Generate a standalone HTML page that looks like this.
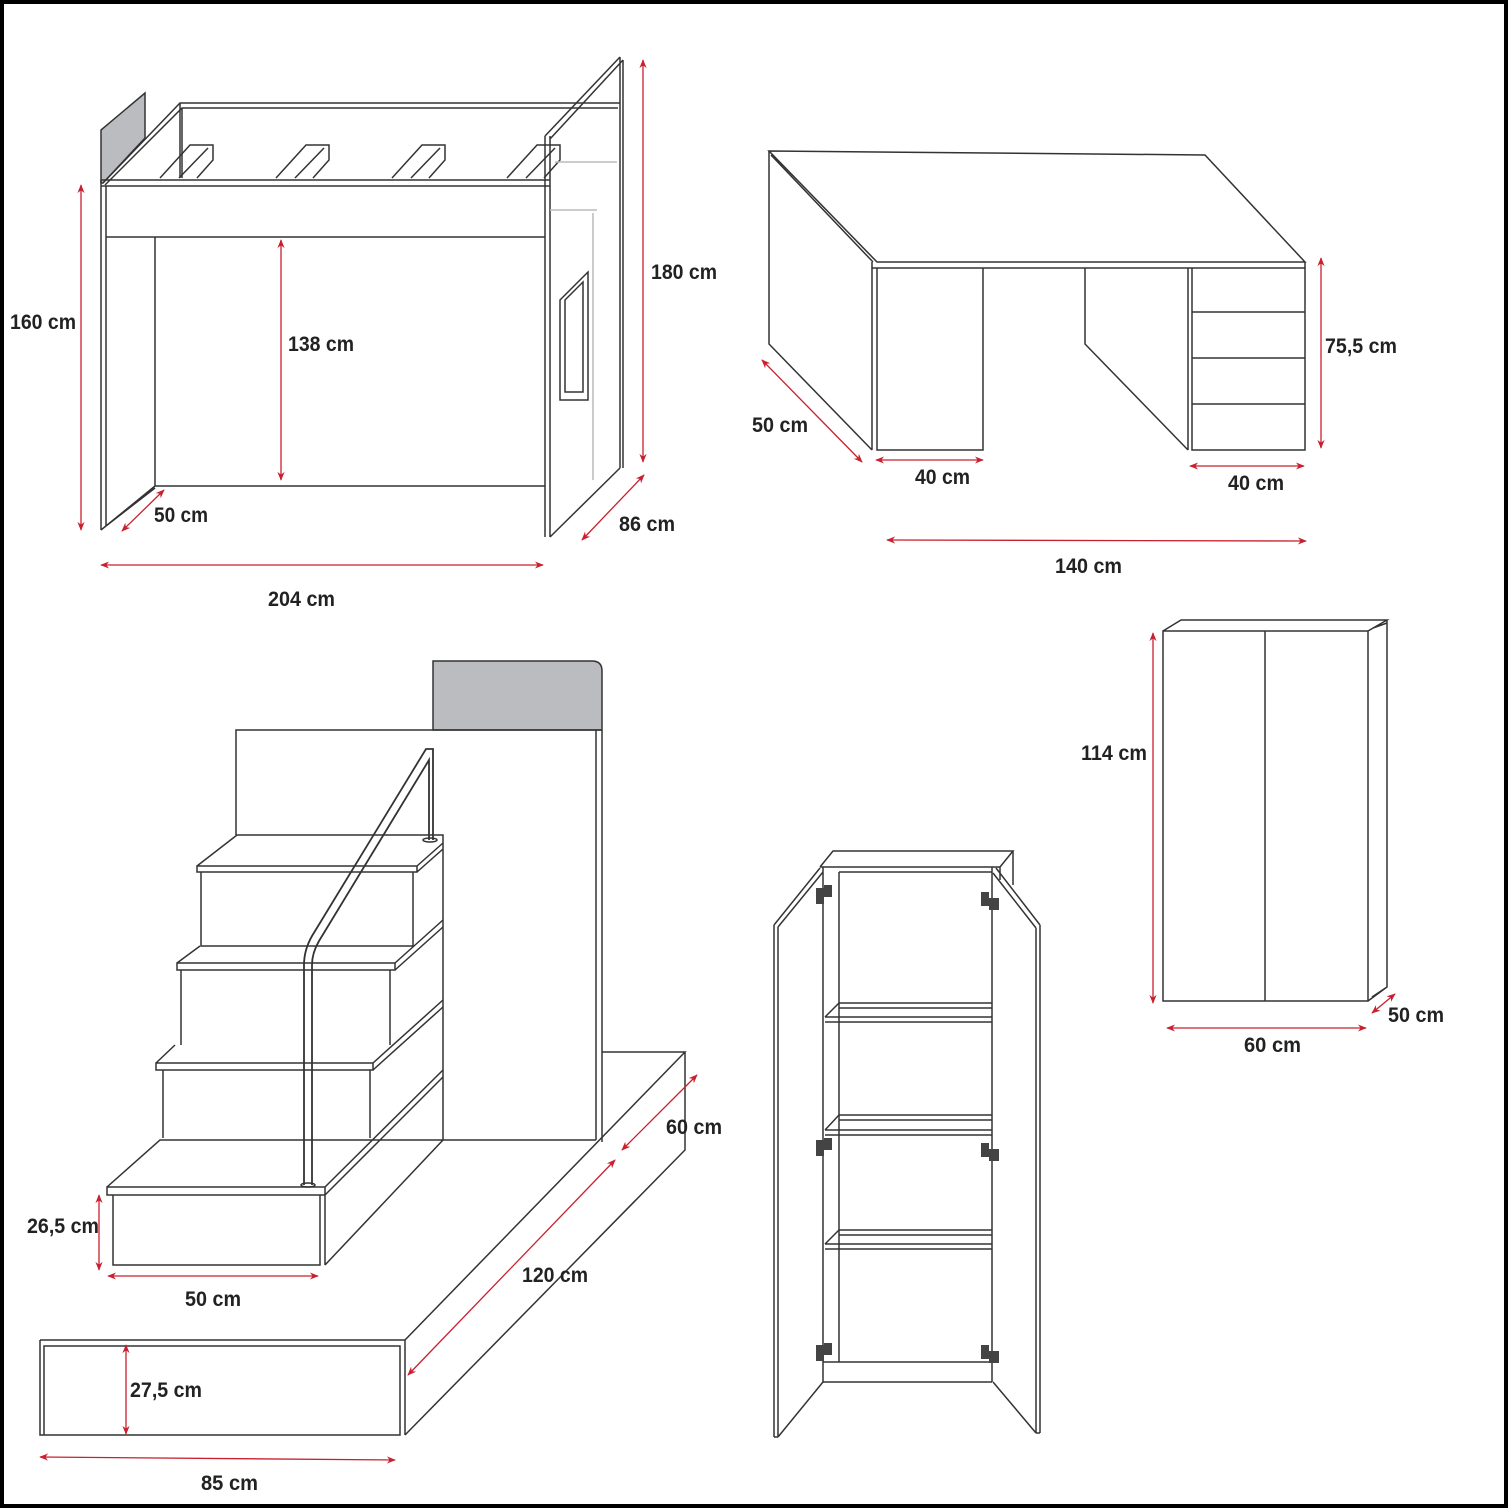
<!DOCTYPE html>
<html><head><meta charset="utf-8"><style>
html,body{margin:0;padding:0;background:#fff}
svg{display:block}
text{font-family:"Liberation Sans Narrow","Liberation Sans",sans-serif;font-weight:bold;font-size:21px;fill:#222}
</style></head><body>
<svg width="1508" height="1508" viewBox="0 0 1508 1508" xmlns="http://www.w3.org/2000/svg">
<defs>
<marker id="a" viewBox="0 0 10 10" refX="9" refY="5" markerWidth="9" markerHeight="9" orient="auto-start-reverse" markerUnits="userSpaceOnUse"><path d="M0,1 L10,5 L0,9 L3,5 z" fill="#c8202e"/></marker>
</defs>
<rect x="2" y="2" width="1504" height="1504" fill="#fff" stroke="#000" stroke-width="4"/>
<g fill="none" stroke="#333" stroke-width="1.5">
<!-- BED -->
<path d="M101,130 L145,93 L145,138 L103,183 L101,183 Z" fill="#bbbcbf"/>
<path d="M103,183 L180,103 L620,103 M105,185 L182,108 L618,108 M180,103 L180,178 M182,108 L182,178"/>
<path d="M101,180 L550,180 M101,186 L550,186 M101,180 L101,530 M106,186 L106,526 M106,237 L545,237 M155,237 L155,486 M155,486 L545,486 M101,530 L155,486 M106,526 L155,488"/>
<path d="M160,178 L190,145 L213,145 L213,160 L197,178 M179,178 L208,148"/>
<path d="M276,178 L306,145 L329,145 L329,160 L313,178 M295,178 L324,148"/>
<path d="M392,178 L422,145 L445,145 L445,160 L429,178 M411,178 L440,148"/>
<path d="M507,178 L537,145 L560,145 L560,160 L544,178 M526,178 L555,148"/>
<path d="M545,136 L545,537 M550,136 L550,537 M545,136 L620,57 M550,139 L623,60 M620,57 L620,468 M623,60 L623,468 M550,537 L620,468"/>
<path d="M555,162 L617,162 M550,210 L597,210 M593,213 L593,480" stroke="#bbb"/>
<path d="M560,300 L588,272 L588,400 L560,400 Z M565,300 L583,282 L583,392 L565,392 Z" stroke="#333"/>
<!-- DESK -->
<path d="M769,151 L1205,155 L1305,262 L877,262 Z M771,155 L873,262 M872,262 L872,268 L1305,268 L1305,262"/>
<path d="M769,151 L769,344 L872,450 M872,268 L872,450 M877,268 L877,450 L983,450 L983,268"/>
<path d="M1085,268 L1085,344 L1188,450 M1188,268 L1188,450 M1192,268 L1192,450 L1305,450 L1305,268 M1192,312 L1305,312 M1192,358 L1305,358 M1192,404 L1305,404"/>
<!-- STAIRS -->
<path d="M433,661 L592,661 Q602,661 602,671 L602,730 L433,730 Z" fill="#bbbcbf"/>
<path d="M236,835 L236,730 L602,730 M596,730 L596,1140 M602,730 L602,1142 M443,1140 L596,1140"/>
<path d="M40,1340 L405,1340 L685,1052 L602,1052 M44,1346 L400,1346 L400,1435 L44,1435 Z M405,1340 L405,1435 M405,1435 L685,1150 L685,1052 M40,1340 L40,1435 L44,1435"/>
<path d="M107,1187 L325,1187 L325,1195 L107,1195 Z M113,1195 L113,1265 L320,1265 L320,1195 M325,1195 L325,1265 M107,1187 L160,1140 L443,1140 M325,1265 L443,1140 M325,1187 L443,1070 M325,1195 L443,1077"/>
<path d="M156,1063 L373,1063 L373,1070 L156,1070 Z M163,1070 L163,1138 M370,1070 L370,1138 M373,1063 L443,1000 M373,1070 L443,1007 M156,1063 L175,1045"/>
<path d="M177,963 L395,963 L395,970 L177,970 Z M181,970 L181,1045 M390,970 L390,1045 M395,963 L443,920 M395,970 L443,927 M177,963 L200,946"/>
<path d="M197,866 L417,866 L417,872 L197,872 Z M201,872 L201,946 L413,946 L413,872 M417,866 L443,843 M417,872 L443,849 M197,866 L237,835 L443,835 L443,1140"/>
<path d="M304,1185 L304,965 Q304,950 312,936 L426,749 L433,749 L433,840 M312,1185 L312,965 Q312,953 319,941 L429,760 L429,840" stroke-width="1.8"/>
<ellipse cx="308" cy="1185" rx="7" ry="2"/><ellipse cx="430" cy="840" rx="7" ry="2"/>
<!-- OPEN CABINET -->
<path d="M820,867 L1000,867 M820,867 L833,851 L1013,851 L1000,867 M1013,851 L1013,885 M1000,867 L1000,880"/>
<path d="M823,867 L823,1382 M839,872 L839,1362 M992,867 L992,1382 M839,872 L992,872 M823,1382 L992,1382 M823,1362 L992,1362"/>
<path d="M774,925 L820,868 M778,927 L823,872 M774,925 L774,1437 M778,927 L778,1437 M774,1437 L778,1437 M778,1437 L823,1382"/>
<path d="M996,868 L1040,925 M993,873 L1036,928 M1036,928 L1036,1433 M1040,925 L1040,1433 M1036,1433 L1040,1433 M993,1382 L1036,1433"/>
<path d="M839,1003 L992,1003 M839,1008 L992,1008 M825,1017 L992,1017 M825,1022 L992,1022 M825,1017 L839,1003"/>
<path d="M839,1115 L992,1115 M839,1120 L992,1120 M825,1130 L992,1130 M825,1135 L992,1135 M825,1130 L839,1115"/>
<path d="M839,1230 L992,1230 M839,1235 L992,1235 M825,1244 L992,1244 M825,1249 L992,1249 M825,1244 L839,1230"/>
<!-- WARDROBE -->
<path d="M1163,631 L1368,631 L1368,1001 L1163,1001 Z M1265,631 L1265,1001 M1163,631 L1181,620 L1387,620 L1368,631 M1373,628 L1387,623 M1387,620 L1387,987 L1368,1001 M1372,997 L1387,987"/>
</g>
<!-- hinges -->
<g fill="#444">
<rect x="816" y="888" width="8" height="16"/><rect x="824" y="885" width="8" height="12"/>
<rect x="981" y="892" width="8" height="14"/><rect x="989" y="898" width="10" height="12"/>
<rect x="816" y="1140" width="8" height="16"/><rect x="824" y="1138" width="8" height="12"/>
<rect x="981" y="1143" width="8" height="14"/><rect x="989" y="1149" width="10" height="12"/>
<rect x="816" y="1345" width="8" height="16"/><rect x="824" y="1343" width="8" height="12"/>
<rect x="981" y="1345" width="8" height="14"/><rect x="989" y="1351" width="10" height="12"/>
</g>
<!-- dimensions -->
<g stroke="#c8202e" stroke-width="1.3" fill="none" marker-start="url(#a)" marker-end="url(#a)">
<line x1="81" y1="185" x2="81" y2="530"/>
<line x1="281" y1="240" x2="281" y2="480"/>
<line x1="643" y1="60" x2="643" y2="462"/>
<line x1="122" y1="531" x2="164" y2="490"/>
<line x1="582" y1="540" x2="644" y2="475"/>
<line x1="101" y1="565" x2="543" y2="565"/>
<line x1="762" y1="360" x2="862" y2="462"/>
<line x1="876" y1="460" x2="983" y2="460"/>
<line x1="1190" y1="466" x2="1304" y2="466"/>
<line x1="1321" y1="258" x2="1321" y2="448"/>
<line x1="887" y1="540" x2="1306" y2="541"/>
<line x1="99" y1="1195" x2="99" y2="1270"/>
<line x1="108" y1="1276" x2="318" y2="1276"/>
<line x1="126" y1="1345" x2="126" y2="1434"/>
<line x1="40" y1="1457" x2="395" y2="1460"/>
<line x1="408" y1="1375" x2="615" y2="1160"/>
<line x1="622" y1="1150" x2="697" y2="1075"/>
<line x1="1153" y1="633" x2="1153" y2="1003"/>
<line x1="1167" y1="1028" x2="1366" y2="1028"/>
<line x1="1372" y1="1013" x2="1395" y2="994"/>
</g>
<g lengthAdjust="spacingAndGlyphs">
<text x="10" y="329" textLength="66" lengthAdjust="spacingAndGlyphs">160 cm</text>
<text x="288" y="351" textLength="66" lengthAdjust="spacingAndGlyphs">138 cm</text>
<text x="651" y="279" textLength="66" lengthAdjust="spacingAndGlyphs">180 cm</text>
<text x="154" y="522" textLength="54" lengthAdjust="spacingAndGlyphs">50 cm</text>
<text x="619" y="531" textLength="56" lengthAdjust="spacingAndGlyphs">86 cm</text>
<text x="268" y="606" textLength="67" lengthAdjust="spacingAndGlyphs">204 cm</text>
<text x="752" y="432" textLength="56" lengthAdjust="spacingAndGlyphs">50 cm</text>
<text x="915" y="484" textLength="55" lengthAdjust="spacingAndGlyphs">40 cm</text>
<text x="1228" y="490" textLength="56" lengthAdjust="spacingAndGlyphs">40 cm</text>
<text x="1325" y="353" textLength="72" lengthAdjust="spacingAndGlyphs">75,5 cm</text>
<text x="1055" y="573" textLength="67" lengthAdjust="spacingAndGlyphs">140 cm</text>
<text x="27" y="1233" textLength="72" lengthAdjust="spacingAndGlyphs">26,5 cm</text>
<text x="185" y="1306" textLength="56" lengthAdjust="spacingAndGlyphs">50 cm</text>
<text x="130" y="1397" textLength="72" lengthAdjust="spacingAndGlyphs">27,5 cm</text>
<text x="201" y="1490" textLength="57" lengthAdjust="spacingAndGlyphs">85 cm</text>
<text x="522" y="1282" textLength="66" lengthAdjust="spacingAndGlyphs">120 cm</text>
<text x="666" y="1134" textLength="56" lengthAdjust="spacingAndGlyphs">60 cm</text>
<text x="1081" y="760" textLength="66" lengthAdjust="spacingAndGlyphs">114 cm</text>
<text x="1244" y="1052" textLength="57" lengthAdjust="spacingAndGlyphs">60 cm</text>
<text x="1388" y="1022" textLength="56" lengthAdjust="spacingAndGlyphs">50 cm</text>
</g>
</svg>
</body></html>
